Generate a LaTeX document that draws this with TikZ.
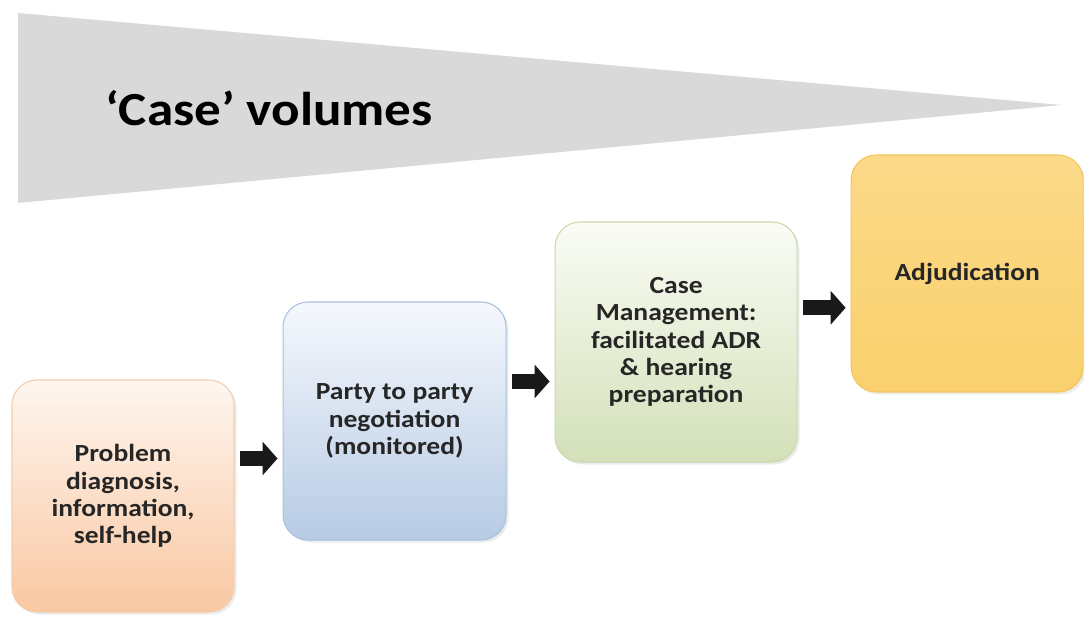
\documentclass[tikz,border=0pt]{standalone}
\usepackage{fontspec}
\setmainfont{Carlito}[FakeStretch=1.12]
\usetikzlibrary{positioning,calc,arrows.meta,shadows}
\tikzset{>=stealth}

\definecolor{wedgegrey}{HTML}{D9D9D9}
\definecolor{peachtop}{HTML}{FEF6F0}
\definecolor{peachbot}{HTML}{F9C8A2}
\definecolor{peachline}{HTML}{F2CDAE}
\definecolor{bluetop}{HTML}{F5F8FD}
\definecolor{bluebot}{HTML}{B7CBE4}
\definecolor{blueline}{HTML}{A9C0DD}
\definecolor{greentop}{HTML}{FAFCF6}
\definecolor{greenbot}{HTML}{D3E0B8}
\definecolor{greenline}{HTML}{C9D9AC}
\definecolor{goldtop}{HTML}{FCDA8A}
\definecolor{goldbot}{HTML}{F9D06C}
\definecolor{goldline}{HTML}{F3C65C}

\begin{document}
\begin{tikzpicture}[
	box/.style = {% process boxes
		rounded corners=0.5cm, line width=0.6pt, align=center,
		text=black!85, font=\fontsize{14}{15.5}\selectfont\bfseries,
		drop shadow={opacity=0.15, shadow xshift=0.05cm, shadow yshift=-0.05cm},},
	flow/.style = {% block arrows
		-{Triangle[width=6.6mm,length=3mm]}, line width=3mm, black!90,
		shorten <=0.1cm, shorten >=0.1cm,},
	]
	\useasboundingbox (0,0) rectangle (21.68,-12.36);

	% volume wedge
	\fill[wedgegrey] (0.36,-0.26) -- (0.36,-4.06) -- (21.24,-2.1) -- cycle;
	\node[anchor=west, font=\fontsize{27}{30}\selectfont\bfseries] (vol)
		at (1.98,-2.16) {`Case' volumes};

	% stages
	\node[box, top color=peachtop, bottom color=peachbot, draw=peachline,
		minimum width=4.44cm, minimum height=4.64cm] (diag) at (2.46,-9.92)
		{Problem\\diagnosis,\\information,\\self-help};
	\node[box, top color=bluetop, bottom color=bluebot, draw=blueline,
		minimum width=4.46cm, minimum height=4.76cm,
		right=0.96cm of diag, yshift=1.5cm] (nego)
		{Party to party\\negotiation\\(monitored)};
	\node[box, top color=greentop, bottom color=greenbot, draw=greenline,
		minimum width=4.84cm, minimum height=4.8cm,
		right=0.96cm of nego, yshift=1.58cm] (manage)
		{Case\\Management:\\facilitated ADR\\\& hearing\\preparation};
	\node[box, top color=goldtop, bottom color=goldbot, draw=goldline,
		minimum width=4.64cm, minimum height=4.74cm,
		right=1.06cm of manage, yshift=1.37cm] (adjud)
		{Adjudication};

	% arrows
	\coordinate (m1) at ($(diag.east)!.5!(nego.west)$);
	\coordinate (m2) at ($(nego.east)!.5!(manage.west)$);
	\coordinate (m3) at ($(manage.east)!.5!(adjud.west)$);
	\draw[flow] (diag.east |- m1) -- (nego.west |- m1);
	\draw[flow] (nego.east |- m2) -- (manage.west |- m2);
	\draw[flow] (manage.east |- m3) -- (adjud.west |- m3);

\end{tikzpicture}
\end{document}
